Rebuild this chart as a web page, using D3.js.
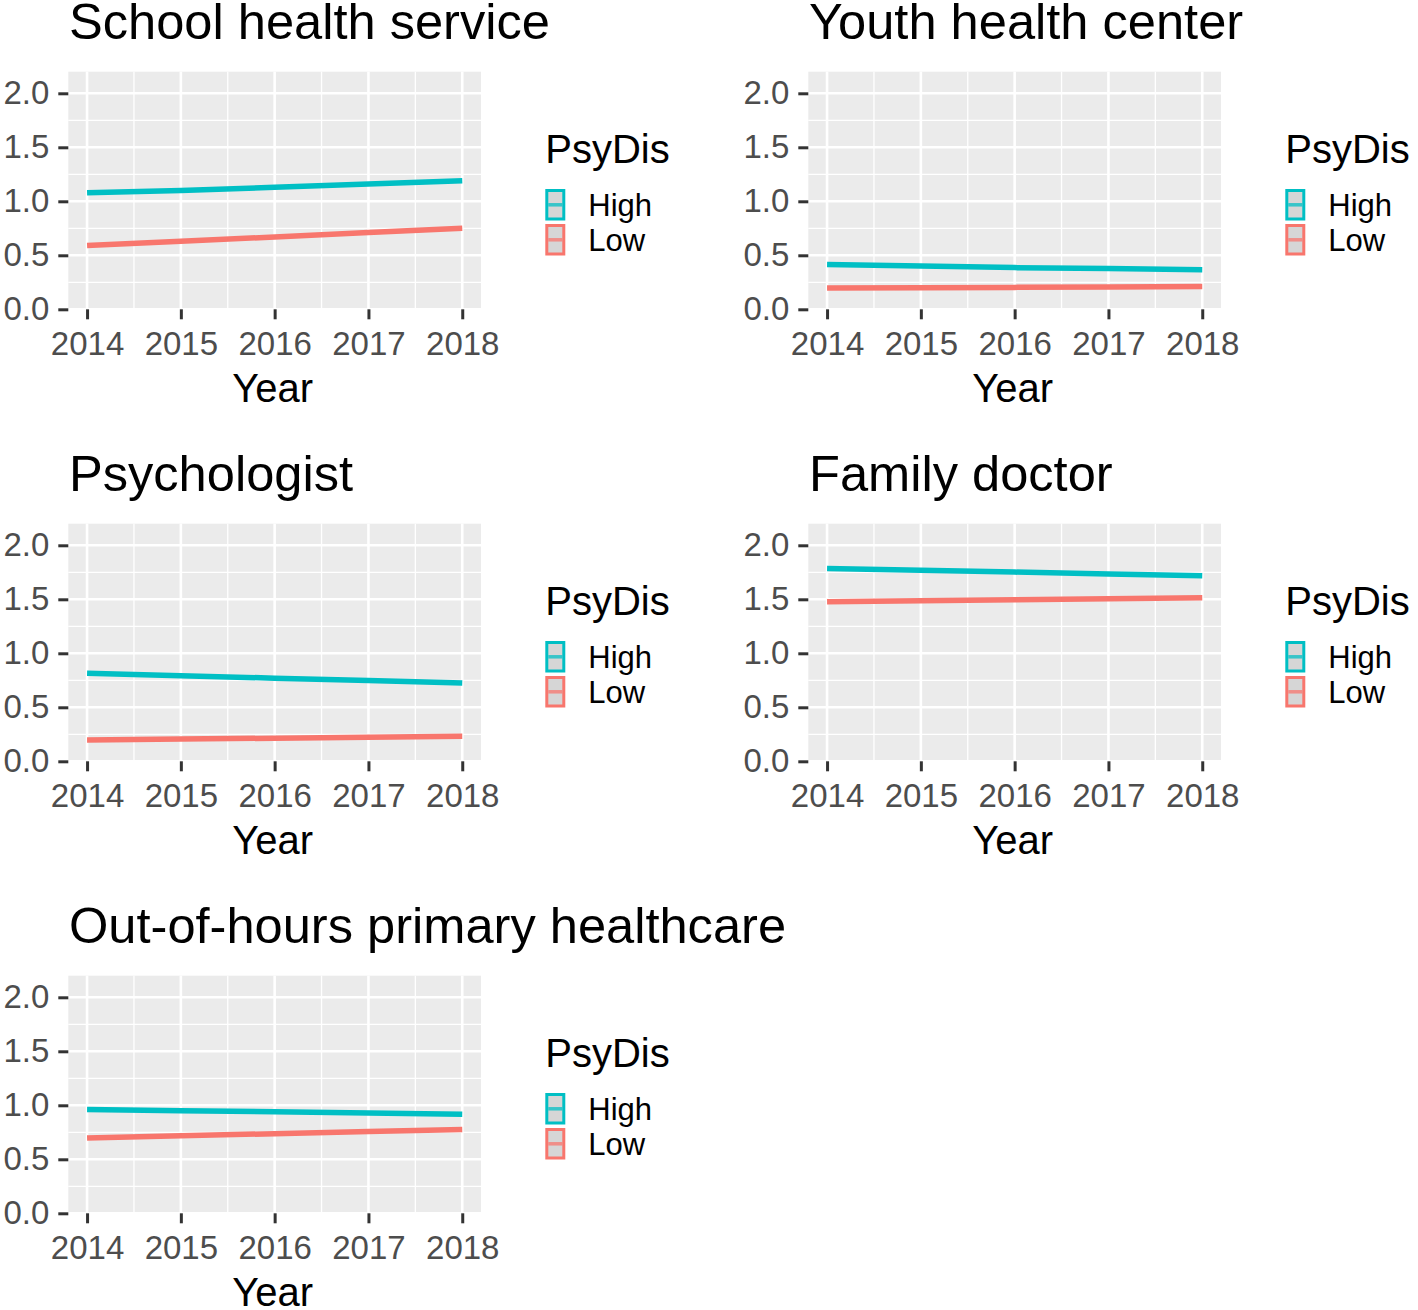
<!DOCTYPE html>
<html>
<head>
<meta charset="utf-8">
<script src="https://cdn.jsdelivr.net/npm/d3@7"></script>
<style>
  html, body { margin: 0; padding: 0; background: #fff; }
  svg { display: block; }
  text { font-family: "Liberation Sans", Arial, sans-serif; }
</style>
</head>
<body>
<svg id="chart" width="1418" height="1310"></svg>
<script>
// ---- data ----
const panels = ["School health service", "Youth health center", "Psychologist", "Family doctor", "Out-of-hours primary healthcare"];
const years = [2014, 2015, 2016, 2017, 2018];
const groups = ["High", "Low"];
const highValues = [
  [1.08, 1.10, 1.13, 1.16, 1.19],
  [0.414, 0.400, 0.386, 0.377, 0.367],
  [0.816, 0.793, 0.770, 0.747, 0.724],
  [1.786, 1.769, 1.752, 1.734, 1.717],
  [0.960, 0.950, 0.940, 0.928, 0.917]
];
const lowValues = [
  [0.59, 0.63, 0.67, 0.71, 0.75],
  [0.197, 0.200, 0.203, 0.207, 0.210],
  [0.198, 0.206, 0.214, 0.222, 0.231],
  [1.477, 1.486, 1.495, 1.505, 1.514],
  [0.698, 0.718, 0.737, 0.757, 0.776]
];
const yTicks = [0, 0.5, 1.0, 1.5, 2.0];
const yMinor = [0.25, 0.75, 1.25, 1.75];
const xMinor = [2014.5, 2015.5, 2016.5, 2017.5];
const legendTitle = "PsyDis";
const xTitle = "Year";

// ---- layout ----
const colors = { High: "#00BFC4", Low: "#F8766D" };
const panelW = 412.7, panelH = 237.6;
const colX = [68.3, 808.3];
const rowY = [71.7, 523.7, 975.7];

const svg = d3.select("#chart");
svg.append("rect").attr("width", 1418).attr("height", 1310).attr("fill", "#fff");

const x = d3.scaleLinear().domain([2014 - 0.2, 2018 + 0.2]).range([0, panelW]);
const y = d3.scaleLinear().domain([0, 2.2]).range([panelH, 0]);

panels.forEach((name, i) => {
  const col = i % 2, row = Math.floor(i / 2);
  const g = svg.append("g").attr("transform", `translate(${colX[col]},${rowY[row]})`);

  // panel background
  g.append("rect").attr("width", panelW).attr("height", panelH).attr("fill", "#EBEBEB");

  // minor grid
  g.selectAll(".ymin").data(yMinor).enter().append("line")
    .attr("x1", 0).attr("x2", panelW).attr("y1", d => y(d)).attr("y2", d => y(d))
    .attr("stroke", "#fff").attr("stroke-width", 1.3);
  g.selectAll(".xmin").data(xMinor).enter().append("line")
    .attr("y1", 0).attr("y2", panelH).attr("x1", d => x(d)).attr("x2", d => x(d))
    .attr("stroke", "#fff").attr("stroke-width", 1.3);
  // major grid
  g.selectAll(".ymaj").data(yTicks).enter().append("line")
    .attr("x1", 0).attr("x2", panelW).attr("y1", d => y(d)).attr("y2", d => y(d))
    .attr("stroke", "#fff").attr("stroke-width", 2.6);
  g.selectAll(".xmaj").data(years).enter().append("line")
    .attr("y1", 0).attr("y2", panelH).attr("x1", d => x(d)).attr("x2", d => x(d))
    .attr("stroke", "#fff").attr("stroke-width", 2.6);

  // lines
  const line = d3.line().x(d => x(d[0])).y(d => y(d[1]));
  const series = { High: highValues[i], Low: lowValues[i] };
  ["Low", "High"].forEach(gr => {
    const pts = years.map((yr, k) => [yr, series[gr][k]]);
    g.append("path").datum(pts).attr("d", line)
      .attr("fill", "none").attr("stroke", colors[gr]).attr("stroke-width", 5.5);
  });

  // axes
  const yAxis = d3.axisLeft(y).tickValues(yTicks).tickFormat(d3.format(".1f")).tickSize(10).tickPadding(9);
  const ya = g.append("g").call(yAxis);
  ya.select(".domain").remove();
  ya.selectAll(".tick line").attr("stroke", "#333").attr("stroke-width", 3);
  ya.selectAll(".tick text").attr("fill", "#4D4D4D").style("font-size", "33px")
    .style("font-family", "'Liberation Sans', Arial, sans-serif");

  const xAxis = d3.axisBottom(x).tickValues(years).tickFormat(d3.format("d")).tickSize(10).tickPadding(4);
  const xa = g.append("g").attr("transform", `translate(0,${panelH})`).call(xAxis);
  xa.select(".domain").remove();
  xa.selectAll(".tick line").attr("stroke", "#333").attr("stroke-width", 3);
  xa.selectAll(".tick text").attr("fill", "#4D4D4D").style("font-size", "33px")
    .style("font-family", "'Liberation Sans', Arial, sans-serif")
    .attr("dy", null).attr("y", 46);

  // axis title
  g.append("text").attr("x", panelW / 2 - 2).attr("y", panelH + 93)
    .attr("text-anchor", "middle").attr("fill", "#000").style("font-size", "40px").text(xTitle);

  // panel title
  g.append("text").attr("x", 0.7).attr("y", -33)
    .attr("fill", "#000").style("font-size", "50.6px").text(name);

  // legend
  const lg = g.append("g").attr("transform", `translate(477,0)`);
  lg.append("text").attr("x", 0).attr("y", 91.6).attr("fill", "#000")
    .style("font-size", "40px").text(legendTitle);
  groups.forEach((gr, k) => {
    const ky = 117.3 + k * 35;
    lg.append("rect").attr("x", 1.5).attr("y", ky + 1.5).attr("width", 17).attr("height", 28.5)
      .attr("fill", "#D6D6D6").attr("stroke", colors[gr]).attr("stroke-width", 3);
    lg.append("line").attr("x1", 3).attr("x2", 17).attr("y1", ky + 15.8).attr("y2", ky + 15.8)
      .attr("stroke", colors[gr]).attr("stroke-opacity", 0.75).attr("stroke-width", 3.5);
    lg.append("text").attr("x", 43).attr("y", ky + 27.4).attr("fill", "#000")
      .style("font-size", "31px").text(gr);
  });
});
</script>
</body>
</html>
